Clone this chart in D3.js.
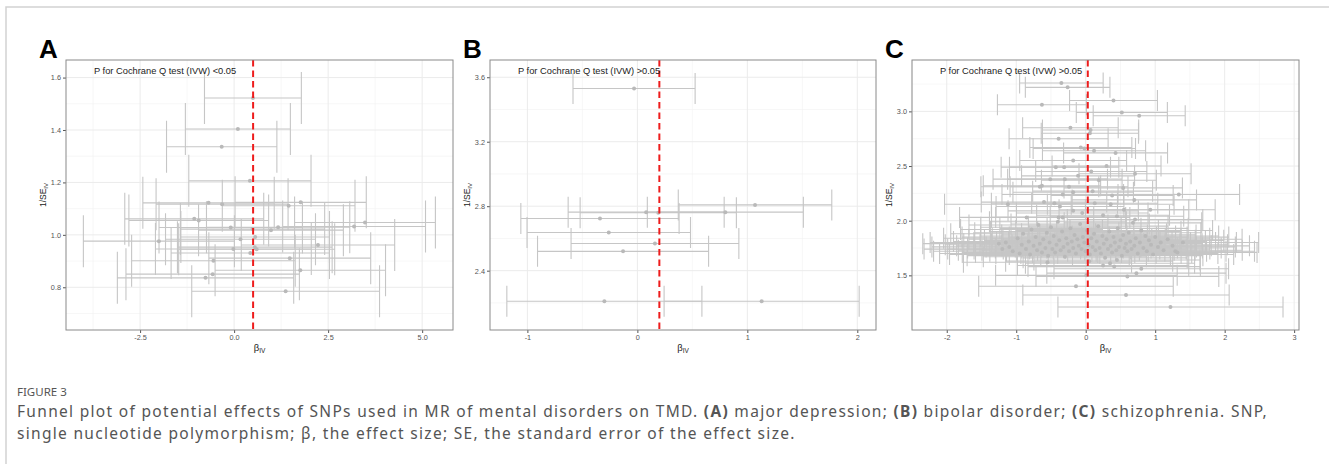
<!DOCTYPE html>
<html lang="en">
<head>
  <meta charset="UTF-8">
  <title>Funnel plots – SNPs of mental disorders on TMD</title>
  <style>
    body { margin: 0; background: #fff; }
    svg { display: block; font-family: "Liberation Sans", Arial, sans-serif; }
    .tick text { fill: #555; font-size: 7.3px; }
    .tick line { stroke: #555; }
    .caption { font-family: "Noto Sans", "Open Sans", sans-serif; fill: #555; }
  </style>
</head>
<body>
  <svg width="1329" height="464"></svg>
  <script src="https://d3js.org/d3.v7.min.js"></script>
  <script>
    // ---- data: [beta_IV, 1/SE_IV] per SNP ----
    const snpsA = [
      [0.50, 1.522], [0.10, 1.404], [-0.33, 1.336], [0.42, 1.206], [-0.68, 1.122],
      [-0.32, 1.117], [1.77, 1.124], [1.45, 1.111], [-1.06, 1.061], [-0.94, 1.055],
      [3.48, 1.047], [3.19, 1.032], [-0.09, 1.028], [0.49, 1.022], [0.98, 1.018],
      [1.17, 1.029], [-2.00, 0.976], [0.17, 0.983], [0.56, 0.992], [-0.02, 0.946],
      [0.55, 0.953], [0.60, 0.945], [2.23, 0.961], [0.43, 0.931], [1.48, 0.911],
      [-0.55, 0.901], [1.76, 0.865], [-0.57, 0.850], [-0.76, 0.836], [1.37, 0.785]
    ];
    const snpsB = [
      [-0.03, 3.530], [1.07, 2.808], [0.80, 2.763], [0.08, 2.763], [0.19, 2.759],
      [-0.34, 2.724], [-0.26, 2.637], [0.16, 2.569], [-0.13, 2.520], [-0.30, 2.210],
      [1.13, 2.210]
    ];
    const snpsC = [
      [-0.35, 3.26], [-0.26, 3.22], [0.40, 3.10], [-0.63, 3.06], [0.52, 2.99], [0.77, 2.96],
      [-0.22, 2.85], [0.07, 2.83], [0.06, 2.80], [-0.39, 2.75], [-0.07, 2.67], [-0.02, 2.66],
      [0.12, 2.64], [0.43, 2.62], [-0.18, 2.55], [0.30, 2.50], [-0.43, 2.49], [-0.31, 2.49],
      [0.08, 2.45], [0.71, 2.43], [-0.11, 2.41], [-0.51, 2.38], [-0.30, 2.38], [0.19, 2.37],
      [-0.63, 2.32], [-0.66, 2.31], [-0.24, 2.31], [0.54, 2.30], [-0.18, 2.26], [0.10, 2.27],
      [1.34, 2.24], [-0.33, 2.24], [0.38, 2.23], [0.70, 2.19], [-0.60, 2.17], [-0.45, 2.16],
      [0.13, 2.16], [0.36, 2.15], [-0.37, 2.13], [-1.12, 2.15], [-0.18, 2.09], [0.93, 2.10],
      [-0.85, 2.03], [-0.39, 2.03], [-0.33, 2.03], [0.71, 2.01], [0.25, 2.05], [-0.05, 2.07],
      [0.55, 2.10], [0.45, 2.04],
      [-1.15, 1.80], [-1.10, 1.76], [-1.05, 1.72], [-0.98, 1.84], [-0.95, 1.70], [-0.92, 1.78],
      [-0.90, 1.88], [-0.86, 1.74], [-0.82, 1.81], [-0.80, 1.69], [-0.78, 1.92], [-0.75, 1.77],
      [-0.72, 1.85], [-0.70, 1.73], [-0.68, 1.96], [-0.66, 1.79], [-0.63, 1.71], [-0.61, 1.83],
      [-0.58, 1.75], [-0.56, 1.89], [-0.54, 1.68], [-0.52, 1.80], [-0.50, 1.94], [-0.48, 1.74],
      [-0.46, 1.86], [-0.44, 1.71], [-0.42, 1.78], [-0.40, 1.99], [-0.38, 1.82], [-0.36, 1.73],
      [-0.34, 1.90], [-0.32, 1.76], [-0.30, 1.67], [-0.28, 1.84], [-0.26, 1.79], [-0.24, 1.72],
      [-0.22, 1.93], [-0.20, 1.81], [-0.18, 1.75], [-0.16, 1.87], [-0.14, 1.70], [-0.12, 1.83],
      [-0.10, 1.77], [-0.08, 1.97], [-0.06, 1.74], [-0.04, 1.85], [-0.02, 1.80], [0.00, 1.72],
      [0.02, 1.91], [0.04, 1.78], [0.06, 1.69], [0.08, 1.84], [0.10, 1.76], [0.12, 1.88],
      [0.14, 1.73], [0.16, 1.81], [0.18, 1.95], [0.20, 1.75], [0.22, 1.70], [0.24, 1.86],
      [0.26, 1.79], [0.28, 1.66], [0.30, 1.83], [0.32, 1.74], [0.34, 1.90], [0.36, 1.77],
      [0.38, 1.71], [0.40, 1.85], [0.42, 1.80], [0.44, 1.73], [0.46, 1.93], [0.48, 1.76],
      [0.50, 1.82], [0.52, 1.68], [0.54, 1.87], [0.56, 1.75], [0.58, 1.79], [0.60, 1.72],
      [0.62, 1.89], [0.64, 1.81], [0.66, 1.74], [0.68, 1.98], [0.70, 1.77], [0.72, 1.84],
      [0.75, 1.70], [0.78, 1.80], [0.80, 1.91], [0.83, 1.75], [0.86, 1.86], [0.88, 1.72],
      [0.91, 1.82], [0.94, 1.78], [0.97, 1.69], [1.00, 1.85], [1.04, 1.76], [1.08, 1.80],
      [1.12, 1.73], [1.18, 1.83], [1.25, 1.77], [1.29, 1.72], [1.32, 1.71], [1.40, 1.80],
      [-1.25, 1.79], [-1.20, 1.74], [0.05, 1.63], [-0.55, 1.62], [0.35, 1.61], [0.45, 1.64],
      [0.25, 1.59], [0.41, 1.58], [0.80, 1.56], [0.60, 1.49], [0.73, 1.52], [0.01, 1.50],
      [-0.14, 1.40], [0.58, 1.32], [1.22, 1.21]
    ];

    const panelLetters = ["A", "B", "C"];
    const qTestLabels = [
      "P for Cochrane Q test (IVW) <0.05",
      "P for Cochrane Q test (IVW) >0.05",
      "P for Cochrane Q test (IVW) >0.05"
    ];
    const ivwEstimates = [0.505, 0.20, 0.03];
    const xDomains = [[-4.47, 5.82], [-1.34, 2.17], [-2.50, 3.07]];
    const yDomains = [[0.637, 1.667], [2.032, 3.707], [1.0, 3.47]];
    const xTicks = [[-2.5, 0, 2.5, 5], [-1, 0, 1, 2], [-2, -1, 0, 1, 2, 3]];
    const yTicks = [[0.8, 1.0, 1.2, 1.4, 1.6], [2.4, 2.8, 3.2, 3.6], [1.5, 2.0, 2.5, 3.0]];
    const xFormats = [".1f", "d", "d"];
    const yFormats = [".1f", ".1f", ".1f"];

    // ---- layout ----
    const width = 1329, height = 464;
    const boxLeft = [66, 490, 912], boxRight = [453, 876, 1299];
    const boxTop = 60, boxBottom = 330;
    const capHalf = [26, 15.5, 10.5];

    const svg = d3.select("svg").attr("width", width).attr("height", height);

    // outer frame (top + left edges)
    svg.append("path")
      .attr("d", `M6,${height} L6,7 L${width},7`)
      .attr("fill", "none")
      .attr("stroke", "#d2d2d2")
      .attr("stroke-width", 1.5);

    const panels = [snpsA, snpsB, snpsC];
    panels.forEach((snps, i) => drawPanel(i, snps));

    function drawPanel(i, snps) {
      const L = boxLeft[i], R = boxRight[i];
      const x = d3.scaleLinear().domain(xDomains[i]).range([L, R]);
      const y = d3.scaleLinear().domain(yDomains[i]).range([boxBottom, boxTop]);
      const g = svg.append("g");

      // minor grid halfway between major ticks
      const minors = (ticks, dom) => {
        const step = ticks[1] - ticks[0];
        const out = [];
        for (let v = ticks[0] - step / 2; v <= dom[1]; v += step) if (v >= dom[0]) out.push(v);
        return out;
      };
      g.append("g").selectAll("line")
        .data(minors(xTicks[i], xDomains[i])).join("line")
        .attr("x1", d => x(d)).attr("x2", d => x(d))
        .attr("y1", boxTop).attr("y2", boxBottom)
        .attr("stroke", "#f2f2f2").attr("stroke-width", 0.6);
      g.append("g").selectAll("line")
        .data(minors(yTicks[i], yDomains[i])).join("line")
        .attr("x1", L).attr("x2", R)
        .attr("y1", d => y(d)).attr("y2", d => y(d))
        .attr("stroke", "#f2f2f2").attr("stroke-width", 0.6);
      // major grid
      g.append("g").selectAll("line")
        .data(xTicks[i]).join("line")
        .attr("x1", d => x(d)).attr("x2", d => x(d))
        .attr("y1", boxTop).attr("y2", boxBottom)
        .attr("stroke", "#ebebeb").attr("stroke-width", 1);
      g.append("g").selectAll("line")
        .data(yTicks[i]).join("line")
        .attr("x1", L).attr("x2", R)
        .attr("y1", d => y(d)).attr("y2", d => y(d))
        .attr("stroke", "#ebebeb").attr("stroke-width", 1);

      // horizontal 95% CI bars: beta ± 1.96 * SE
      const lo = d => d[0] - 1.96 / d[1];
      const hi = d => d[0] + 1.96 / d[1];
      const bars = g.append("g")
        .attr("stroke", "#c6c6c6")
        .attr("stroke-width", 1.1)
        .attr("fill", "none");
      bars.selectAll("path")
        .data(snps).join("path")
        .attr("d", d => {
          const yy = y(d[1]), x0 = x(lo(d)), x1 = x(hi(d)), h = capHalf[i];
          return `M${x0},${yy - h}V${yy + h}M${x0},${yy}H${x1}M${x1},${yy - h}V${yy + h}`;
        });

      g.append("g").selectAll("circle")
        .data(snps).join("circle")
        .attr("cx", d => x(d[0]))
        .attr("cy", d => y(d[1]))
        .attr("r", 2)
        .attr("fill", "#b9b9b9");

      // IVW estimate
      g.append("line")
        .attr("x1", x(ivwEstimates[i])).attr("x2", x(ivwEstimates[i]))
        .attr("y1", boxTop).attr("y2", boxBottom)
        .attr("stroke", "#ee1c1c")
        .attr("stroke-width", 2)
        .attr("stroke-dasharray", "6.5,4");

      g.append("text")
        .attr("x", L + 28).attr("y", 74)
        .attr("font-size", 9.3).attr("fill", "#222")
        .text(qTestLabels[i]);

      // axes
      const yAxis = d3.axisLeft(y).tickValues(yTicks[i]).tickSize(3).tickPadding(2)
        .tickFormat(d3.format(yFormats[i]));
      const xAxis = d3.axisBottom(x).tickValues(xTicks[i]).tickSize(3).tickPadding(2)
        .tickFormat(d => d3.format(xFormats[i])(d).replace("−", "-"));
      g.append("g").attr("transform", `translate(${L},0)`).call(yAxis)
        .call(a => a.select(".domain").remove());
      g.append("g").attr("transform", `translate(0,${boxBottom})`).call(xAxis)
        .call(a => a.select(".domain").remove());

      g.append("rect")
        .attr("x", L).attr("y", boxTop)
        .attr("width", R - L).attr("height", boxBottom - boxTop)
        .attr("fill", "none").attr("stroke", "#8a8a8a").attr("stroke-width", 1);

      // axis titles
      const cy = (boxTop + boxBottom) / 2;
      const yt = g.append("text")
        .attr("transform", `translate(${L - 20},${cy}) rotate(-90)`)
        .attr("text-anchor", "middle")
        .attr("font-size", 8.5).attr("fill", "#222");
      yt.append("tspan").text("1/SE");
      yt.append("tspan").attr("font-size", 6).attr("dy", 2).text("IV");

      const xt = g.append("text")
        .attr("x", (L + R) / 2).attr("y", 351)
        .attr("text-anchor", "middle")
        .attr("font-size", 9.5).attr("fill", "#222");
      xt.append("tspan").text("β");
      xt.append("tspan").attr("font-size", 6.5).attr("dy", 2).text("IV");

      svg.append("text")
        .attr("x", L - 27).attr("y", 58)
        .attr("font-size", 26).attr("font-weight", "bold").attr("fill", "#000")
        .text(panelLetters[i]);
    }

    // ---- caption ----
    svg.append("text").attr("class", "caption")
      .attr("x", 17).attr("y", 396)
      .attr("font-size", 11.5).attr("fill", "#666")
      .text("FIGURE 3");

    const line2 = [
      ["Funnel plot of potential effects of SNPs used in MR of mental disorders on TMD. ", false],
      ["(A)", true], [" major depression; ", false],
      ["(B)", true], [" bipolar disorder; ", false],
      ["(C)", true], [" schizophrenia. SNP,", false]
    ];
    const line3 = "single nucleotide polymorphism; β, the effect size; SE, the standard error of the effect size.";
    const t2 = svg.append("text").attr("class", "caption")
      .attr("x", 17).attr("y", 417).attr("font-size", 15.5);
    line2.forEach(([s, b]) => t2.append("tspan").attr("font-weight", b ? "bold" : null).text(s));
    const t3 = svg.append("text").attr("class", "caption")
      .attr("x", 17).attr("y", 439).attr("font-size", 15.5)
      .text(line3);

    // the caption face is wider-set than Noto Sans: spread letters so line 2 spans to x≈1268
    const n2 = line2.map(d => d[0]).join("").length;
    const spacing = (1251 - t2.node().getComputedTextLength()) / n2;
    t2.attr("letter-spacing", spacing);
    t3.attr("letter-spacing", spacing);
  </script>
</body>
</html>
